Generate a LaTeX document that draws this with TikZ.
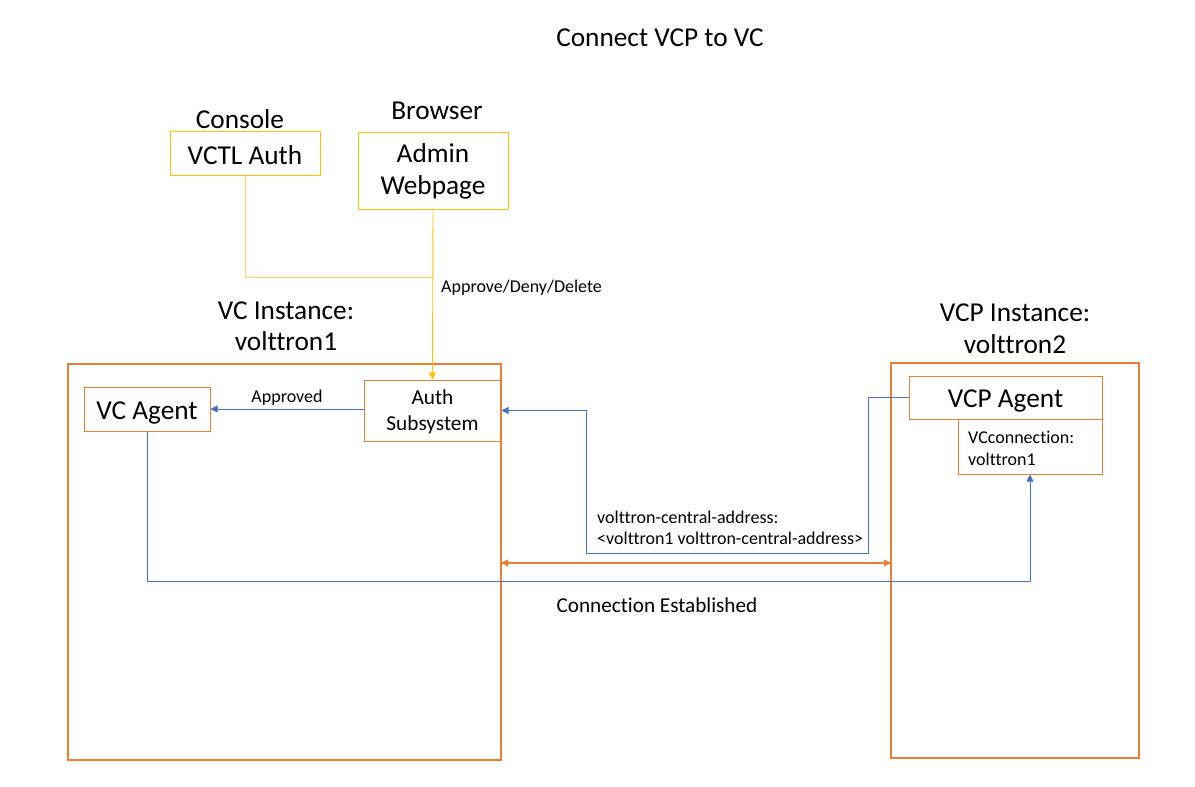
\documentclass[tikz,border=0pt]{standalone}
\usepackage{fontspec}
\setmainfont{Carlito}[Ligatures={NoCommon}]
\usetikzlibrary{arrows.meta}
\definecolor{orng}{HTML}{ED7D31}
\definecolor{blu}{HTML}{4472C4}
\definecolor{yel}{HTML}{FFC000}
\newcommand{\dn}[2]{\raisebox{-#1}[\height][\depth]{#2}}
\newcommand{\twol}[2]{\begin{tabular}{@{}c@{}}#1\\#2\end{tabular}}
\begin{document}
\begin{tikzpicture}[x=1pt,y=-1pt,
  big/.style={font=\fontsize{27.3}{32}\selectfont},
  small/.style={font=\fontsize{18}{21}\selectfont},
  ybox/.style={draw=yel,line width=1pt,inner sep=0pt,align=center},
  obox/.style={draw=orng,line width=1pt,inner sep=0pt,align=center},
  inst/.style={draw=orng,line width=2pt,inner sep=0pt},
  lbl/.style={inner sep=0pt},
  tip/.style={-{Triangle[width=7pt,length=7pt]}},
  bluel/.style={draw=blu,line width=0.9pt},
  ]
\useasboundingbox (0,0) rectangle (1195,787);
\node[lbl,big] (title) at (660,38) {Connect VCP to VC};
\node[lbl,big] (console) at (240,119) {Console};
\node[lbl,big] (browser) at (437,111) {Browser};
\node[ybox,big,minimum width=150pt,minimum height=44pt] (vctl) at (245,153) {\dn{2pt}{VCTL Auth}};
\node[ybox,minimum width=150pt,minimum height=77pt,font=\fontsize{27.3}{32}\selectfont] (admin) at (433,170.5) {\dn{2pt}{\twol{Admin}{Webpage}}};
\node[lbl,align=center,font=\fontsize{27.3}{31}\selectfont] (vcinst) at (286,326) {VC Instance:\\volttron1};
\node[lbl,align=center,font=\fontsize{27.3}{32}\selectfont] (vcpinst) at (1015,328.5) {VCP Instance:\\volttron2};
\node[inst,minimum width=433pt,minimum height=396pt] (vcbox) at (284.5,562) {};
\node[inst,minimum width=248pt,minimum height=395pt] (vcpbox) at (1015,560.5) {};
\node[obox,big,minimum width=126pt,minimum height=44pt] (vcagent) at (147,409) {\dn{4pt}{VC Agent}};
\node[obox,minimum width=137pt,minimum height=61pt,font=\fontsize{21.3}{26}\selectfont] (auth) at (432.5,410.5) {\dn{2pt}{\twol{Auth}{Subsystem}}};
\node[obox,big,minimum width=193pt,minimum height=43pt] (vcpagent) at (1005.5,397.5) {\dn{3pt}{VCP Agent}};
\node[obox,minimum width=144pt,minimum height=55pt] (vcconn) at (1030,446.5) {};
\node[lbl,anchor=west,align=left,font=\fontsize{18}{22}\selectfont] (vcconntxt) at (968,448) {VCconnection:\\volttron1};
% yellow connectors
\coordinate (yj) at (433,277);
\draw[draw=yel!70,line width=0.9pt] (vctl.south) |- (yj);
\draw[draw=yel,line width=0.9pt,tip,yel] (admin.south) -- (auth.north);
\node[lbl,small,anchor=west] (appr) at (441,288) {Approve/Deny/Delete};
% approved
\draw[bluel,tip,blu] (auth.west |- vcagent) -- (vcagent.east);
\node[lbl,small] (apprd) at (287,398) {Approved};
% vcp -> auth
\coordinate (b1) at (868,397.5);
\coordinate (b2) at (868,553);
\coordinate (b3) at (586,553);
\draw[bluel,tip,blu] (vcpagent.west) -- (b1) -- (b2) -- (b3) |- (auth.east);
\node[lbl,anchor=west,align=left,font=\fontsize{18}{21}\selectfont] (vca) at (597,527.5) {volttron-central-address:\\<volttron1 volttron-central-address>};
% orange double arrow
\coordinate (o1) at (501,563);
\coordinate (o2) at (891,563);
\draw[draw=orng,line width=1.3pt,{Triangle[width=7pt,length=7pt]}-{Triangle[width=7pt,length=7pt]},orng] (o1) -- (o2);
% vc agent -> vcconnection
\coordinate (c1) at (1030,581);
\draw[bluel,tip,blu] (vcagent.south) |- (c1) -- (vcconn.south);
\node[lbl,font=\fontsize{21.2}{24}\selectfont] (conn) at (657,605) {Connection Established};
\end{tikzpicture}
\end{document}
